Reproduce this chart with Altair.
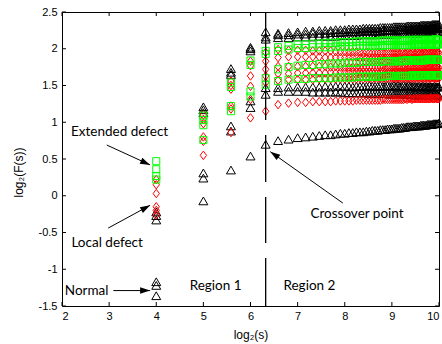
import altair as alt
import numpy as np
import pandas as pd

# Window sizes s = 16, 32, ..., 1024  (x axis shows log2(s))
window_sizes = list(range(16, 1025, 16))

# log2(F(s)) for each recording, one value per window size
normal_curves = [
    [-0.22, 1.21, 1.73, 2.02,
     2.23, 2.21, 2.22, 2.23, 2.24, 2.24, 2.25, 2.25, 2.25, 2.26,
     2.26, 2.26, 2.27, 2.27, 2.27, 2.27, 2.28, 2.28, 2.28, 2.28,
     2.28, 2.28, 2.29, 2.29, 2.29, 2.29, 2.29, 2.29, 2.30, 2.30,
     2.30, 2.30, 2.30, 2.30, 2.30, 2.31, 2.31, 2.31, 2.31, 2.31,
     2.31, 2.31, 2.31, 2.31, 2.32, 2.32, 2.32, 2.32, 2.32, 2.32,
     2.32, 2.32, 2.32, 2.33, 2.33, 2.33, 2.33, 2.33, 2.33, 2.33],
    [-0.27, 1.17, 1.68, 2.00,
     2.16, 2.19, 2.19, 2.20, 2.20, 2.21, 2.21, 2.21, 2.22, 2.22,
     2.22, 2.23, 2.23, 2.23, 2.23, 2.23, 2.24, 2.24, 2.24, 2.24,
     2.24, 2.24, 2.24, 2.25, 2.25, 2.25, 2.25, 2.25, 2.25, 2.25,
     2.25, 2.26, 2.26, 2.26, 2.26, 2.26, 2.26, 2.26, 2.26, 2.26,
     2.26, 2.27, 2.27, 2.27, 2.27, 2.27, 2.27, 2.27, 2.27, 2.27,
     2.27, 2.27, 2.27, 2.28, 2.28, 2.28, 2.28, 2.28, 2.28, 2.28],
    [-0.33, 1.13, 1.65, 1.97,
     2.13, 2.15, 2.15, 2.16, 2.16, 2.16, 2.17, 2.17, 2.17, 2.17,
     2.18, 2.18, 2.18, 2.18, 2.18, 2.19, 2.19, 2.19, 2.19, 2.19,
     2.19, 2.19, 2.20, 2.20, 2.20, 2.20, 2.20, 2.20, 2.20, 2.20,
     2.20, 2.21, 2.21, 2.21, 2.21, 2.21, 2.21, 2.21, 2.21, 2.21,
     2.21, 2.21, 2.22, 2.22, 2.22, 2.22, 2.22, 2.22, 2.22, 2.22,
     2.22, 2.22, 2.22, 2.22, 2.22, 2.23, 2.23, 2.23, 2.23, 2.23],
    [-1.17, 0.31, 0.95, 1.29,
     1.47, 1.47, 1.48, 1.48, 1.48, 1.48, 1.48, 1.49, 1.48, 1.49,
     1.49, 1.49, 1.49, 1.48, 1.49, 1.49, 1.49, 1.49, 1.50, 1.49,
     1.49, 1.49, 1.50, 1.49, 1.49, 1.50, 1.49, 1.49, 1.50, 1.49,
     1.50, 1.49, 1.49, 1.50, 1.49, 1.49, 1.50, 1.49, 1.49, 1.49,
     1.49, 1.48, 1.49, 1.49, 1.48, 1.49, 1.49, 1.48, 1.49, 1.48,
     1.48, 1.49, 1.48, 1.48, 1.48, 1.49, 1.48, 1.48, 1.48, 1.48],
    [-1.22, 0.24, 0.88, 1.20,
     1.38, 1.42, 1.42, 1.42, 1.42, 1.41, 1.41, 1.41, 1.41, 1.41,
     1.41, 1.40, 1.40, 1.40, 1.40, 1.40, 1.40, 1.40, 1.39, 1.39,
     1.39, 1.39, 1.39, 1.39, 1.39, 1.39, 1.38, 1.39, 1.38, 1.38,
     1.38, 1.38, 1.38, 1.38, 1.38, 1.38, 1.38, 1.38, 1.38, 1.37,
     1.38, 1.37, 1.37, 1.37, 1.37, 1.37, 1.37, 1.37, 1.37, 1.37,
     1.37, 1.37, 1.37, 1.36, 1.37, 1.37, 1.36, 1.37, 1.36, 1.36],
    [-1.36, -0.07, 0.35, 0.54,
     0.70, 0.75, 0.77, 0.79, 0.80, 0.81, 0.82, 0.83, 0.83, 0.84,
     0.85, 0.85, 0.86, 0.86, 0.87, 0.87, 0.87, 0.88, 0.88, 0.89,
     0.89, 0.89, 0.90, 0.90, 0.90, 0.91, 0.91, 0.91, 0.92, 0.92,
     0.92, 0.92, 0.93, 0.93, 0.93, 0.94, 0.94, 0.94, 0.94, 0.95,
     0.95, 0.95, 0.95, 0.95, 0.96, 0.96, 0.96, 0.96, 0.96, 0.97,
     0.97, 0.97, 0.97, 0.97, 0.98, 0.98, 0.98, 0.98, 0.98, 0.99],
]

local_curves = [
    [0.22, 1.10, 1.56, 1.83,
     1.95, 1.99, 1.98, 1.98, 1.98, 1.97, 1.97, 1.97, 1.97, 1.96,
     1.96, 1.96, 1.96, 1.96, 1.96, 1.96, 1.95, 1.96, 1.95, 1.95,
     1.95, 1.95, 1.95, 1.95, 1.95, 1.95, 1.95, 1.95, 1.95, 1.95,
     1.95, 1.94, 1.95, 1.95, 1.94, 1.95, 1.95, 1.94, 1.95, 1.95,
     1.94, 1.95, 1.95, 1.94, 1.95, 1.94, 1.95, 1.95, 1.94, 1.95,
     1.94, 1.95, 1.94, 1.95, 1.95, 1.94, 1.95, 1.94, 1.95, 1.94],
    [0.15, 1.04, 1.50, 1.77,
     1.83, 1.88, 1.89, 1.89, 1.89, 1.89, 1.89, 1.88, 1.88, 1.88,
     1.88, 1.88, 1.88, 1.88, 1.88, 1.87, 1.88, 1.87, 1.87, 1.87,
     1.87, 1.87, 1.87, 1.87, 1.87, 1.87, 1.87, 1.87, 1.87, 1.87,
     1.87, 1.87, 1.86, 1.87, 1.87, 1.87, 1.86, 1.87, 1.87, 1.86,
     1.87, 1.86, 1.87, 1.87, 1.86, 1.87, 1.86, 1.87, 1.86, 1.87,
     1.86, 1.87, 1.86, 1.87, 1.86, 1.86, 1.87, 1.86, 1.86, 1.86],
    [0.03, 0.98, 1.45, 1.63,
     1.72, 1.76, 1.76, 1.76, 1.76, 1.76, 1.76, 1.76, 1.75, 1.76,
     1.75, 1.75, 1.75, 1.75, 1.75, 1.75, 1.75, 1.75, 1.75, 1.75,
     1.75, 1.75, 1.75, 1.75, 1.74, 1.75, 1.75, 1.75, 1.75, 1.74,
     1.75, 1.74, 1.75, 1.74, 1.75, 1.74, 1.74, 1.75, 1.74, 1.74,
     1.74, 1.74, 1.75, 1.74, 1.74, 1.74, 1.74, 1.74, 1.74, 1.74,
     1.74, 1.74, 1.74, 1.73, 1.74, 1.74, 1.74, 1.73, 1.74, 1.74],
    [-0.15, 0.80, 1.22, 1.49,
     1.63, 1.66, 1.66, 1.67, 1.67, 1.67, 1.67, 1.67, 1.68, 1.67,
     1.68, 1.68, 1.68, 1.68, 1.68, 1.68, 1.68, 1.68, 1.68, 1.68,
     1.68, 1.68, 1.68, 1.69, 1.68, 1.68, 1.68, 1.68, 1.68, 1.69,
     1.68, 1.68, 1.68, 1.68, 1.69, 1.68, 1.68, 1.68, 1.68, 1.68,
     1.68, 1.69, 1.68, 1.68, 1.68, 1.68, 1.68, 1.69, 1.68, 1.68,
     1.68, 1.68, 1.68, 1.68, 1.69, 1.68, 1.68, 1.68, 1.68, 1.68],
    [-0.20, 0.74, 1.18, 1.31,
     1.54, 1.57, 1.58, 1.58, 1.58, 1.58, 1.59, 1.59, 1.59, 1.59,
     1.59, 1.59, 1.59, 1.59, 1.59, 1.60, 1.59, 1.60, 1.60, 1.59,
     1.60, 1.60, 1.60, 1.60, 1.60, 1.60, 1.60, 1.60, 1.60, 1.60,
     1.60, 1.60, 1.60, 1.60, 1.60, 1.60, 1.60, 1.60, 1.60, 1.60,
     1.60, 1.60, 1.61, 1.60, 1.60, 1.60, 1.60, 1.60, 1.61, 1.60,
     1.60, 1.60, 1.60, 1.61, 1.60, 1.60, 1.60, 1.60, 1.61, 1.60],
    [-0.26, 0.55, 0.86, 1.06,
     1.15, 1.24, 1.26, 1.27, 1.27, 1.28, 1.28, 1.28, 1.28, 1.29,
     1.29, 1.29, 1.29, 1.29, 1.30, 1.30, 1.30, 1.30, 1.30, 1.30,
     1.30, 1.30, 1.30, 1.31, 1.31, 1.31, 1.31, 1.31, 1.31, 1.31,
     1.31, 1.31, 1.31, 1.31, 1.32, 1.31, 1.32, 1.32, 1.31, 1.32,
     1.32, 1.32, 1.32, 1.32, 1.32, 1.32, 1.32, 1.32, 1.32, 1.32,
     1.32, 1.32, 1.33, 1.32, 1.32, 1.32, 1.33, 1.32, 1.32, 1.32],
]

extended_curves = [
    [0.47, 1.09, 1.54, 1.84,
     1.97, 2.02, 2.04, 2.06, 2.06, 2.07, 2.07, 2.08, 2.08, 2.08,
     2.09, 2.09, 2.09, 2.09, 2.10, 2.10, 2.10, 2.10, 2.10, 2.10,
     2.10, 2.10, 2.11, 2.11, 2.11, 2.11, 2.11, 2.11, 2.11, 2.11,
     2.11, 2.11, 2.11, 2.11, 2.11, 2.12, 2.11, 2.12, 2.12, 2.12,
     2.12, 2.12, 2.12, 2.12, 2.12, 2.12, 2.12, 2.12, 2.12, 2.12,
     2.12, 2.12, 2.12, 2.12, 2.12, 2.12, 2.13, 2.12, 2.12, 2.12],
    [0.36, 1.03, 1.48, 1.78,
     1.93, 1.97, 1.99, 2.01, 2.01, 2.02, 2.02, 2.02, 2.02, 2.03,
     2.03, 2.03, 2.03, 2.03, 2.04, 2.04, 2.04, 2.04, 2.04, 2.04,
     2.04, 2.04, 2.04, 2.04, 2.05, 2.05, 2.05, 2.05, 2.05, 2.05,
     2.05, 2.05, 2.05, 2.05, 2.05, 2.05, 2.05, 2.05, 2.05, 2.06,
     2.05, 2.06, 2.06, 2.06, 2.06, 2.06, 2.06, 2.06, 2.06, 2.06,
     2.06, 2.06, 2.06, 2.06, 2.06, 2.06, 2.06, 2.06, 2.06, 2.06],
    [0.27, 0.96, 1.22, 1.42,
     1.60, 1.72, 1.75, 1.77, 1.78, 1.78, 1.79, 1.79, 1.80, 1.80,
     1.80, 1.81, 1.81, 1.81, 1.81, 1.82, 1.82, 1.82, 1.82, 1.82,
     1.82, 1.82, 1.82, 1.83, 1.83, 1.83, 1.83, 1.83, 1.83, 1.83,
     1.83, 1.83, 1.84, 1.83, 1.84, 1.84, 1.84, 1.84, 1.84, 1.84,
     1.84, 1.84, 1.84, 1.84, 1.84, 1.84, 1.85, 1.84, 1.85, 1.85,
     1.85, 1.85, 1.85, 1.85, 1.85, 1.85, 1.85, 1.85, 1.85, 1.85],
    [0.22, 0.76, 1.15, 1.35,
     1.51, 1.56, 1.58, 1.59, 1.59, 1.60, 1.60, 1.60, 1.60, 1.61,
     1.61, 1.61, 1.61, 1.61, 1.62, 1.62, 1.62, 1.62, 1.62, 1.62,
     1.62, 1.62, 1.62, 1.62, 1.63, 1.63, 1.63, 1.63, 1.63, 1.63,
     1.63, 1.63, 1.63, 1.63, 1.63, 1.63, 1.63, 1.63, 1.64, 1.63,
     1.64, 1.63, 1.64, 1.64, 1.64, 1.64, 1.64, 1.64, 1.64, 1.64,
     1.64, 1.64, 1.64, 1.64, 1.64, 1.64, 1.64, 1.64, 1.64, 1.64],
]

crossover_size = 80
x_ticks = [2, 3, 4, 5, 6, 7, 8, 9, 10]
y_ticks = [-1.5, -1, -0.5, 0, 0.5, 1, 1.5, 2, 2.5]

# Text annotations (data coordinates)
notes = pd.DataFrame({
    "label": ["Extended defect", "Local defect", "Normal", "Region 1", "Region 2", "Crossover point"],
    "x": [2.19, 2.20, 2.06, 5.26, 7.25, 8.26],
    "y": [0.87, -0.64, -1.29, -1.23, -1.23, -0.25],
    "align": ["left", "left", "left", "center", "center", "center"],
})

# Arrows: tail (x, y) -> head (x2, y2)
arrows = pd.DataFrame({
    "x": [2.95, 2.98, 3.09, 7.96],
    "y": [0.69, -0.44, -1.29, -0.10],
    "x2": [3.87, 3.87, 3.87, 6.42],
    "y2": [0.42, -0.13, -1.29, 0.60],
})

W, H = 377, 294
X_DOM, Y_DOM = (2, 10), (-1.5, 2.5)

for group in (normal_curves, local_curves, extended_curves):
    assert all(len(c) == len(window_sizes) for c in group)


def long_table(curves, kind):
    rows = []
    for i, vals in enumerate(curves):
        for s, v in zip(window_sizes, vals):
            rows.append({"kind": kind, "curve": i, "x": float(np.log2(s)), "y": v})
    return pd.DataFrame(rows)


normal_df = long_table(normal_curves, "Normal")
local_df = long_table(local_curves, "Local defect")
extended_df = long_table(extended_curves, "Extended defect")

# rotation of each arrowhead in screen space (clockwise degrees)
px_x = W / (X_DOM[1] - X_DOM[0])
px_y = H / (Y_DOM[1] - Y_DOM[0])
arrows["angle"] = [
    float(np.degrees(np.arctan2(-(r.y2 - r.y) * px_y, (r.x2 - r.x) * px_x)) % 360)
    for r in arrows.itertuples()
]

xs = alt.Scale(domain=list(X_DOM), nice=False, zero=False)
ys = alt.Scale(domain=list(Y_DOM), nice=False, zero=False)
xa = alt.Axis(values=x_ticks, title="log₂(s)", labelExpr="'' + datum.value",
              labelPadding=4, titleY=28, titleBaseline="middle")
ya = alt.Axis(values=y_ticks, title="log₂(F(s))", labelExpr="'' + datum.value",
              labelPadding=5, titleX=-37, titleY=160)


def X(field):
    return alt.X(field, type="quantitative", scale=xs, axis=xa)


def Y(field):
    return alt.Y(field, type="quantitative", scale=ys, axis=ya)


triangle = alt.Chart(normal_df).mark_point(
    shape="triangle-up", filled=False, color="#000000", size=80, strokeWidth=1, opacity=1
).encode(x=X("x"), y=Y("y"))

diamond = alt.Chart(local_df).mark_point(
    shape="M0,-1L0.75,0L0,1L-0.75,0Z", filled=False, color="#ff0000", size=72, strokeWidth=1, opacity=1
).encode(x=X("x"), y=Y("y"))

square = alt.Chart(extended_df).mark_point(
    shape="square", filled=False, color="#00ff00", size=50, strokeWidth=1, opacity=1
).encode(x=X("x"), y=Y("y"))

cross_df = pd.DataFrame({"x": [float(np.log2(crossover_size))]})
crossover_line = alt.Chart(cross_df).mark_rule(
    color="black", strokeWidth=1.3, strokeDash=[108, 15, 47, 15, 46, 15, 48]
).encode(x=X("x"), y=alt.value(0), y2=alt.value(H))

arrow_lines = alt.Chart(arrows).mark_rule(color="black", strokeWidth=1).encode(
    x=X("x"), y=Y("y"), x2="x2", y2="y2"
)
arrow_heads = alt.Chart(arrows).mark_point(
    shape="M0,0L-1,-0.32L-1,0.32Z", filled=True, color="black", size=400, strokeWidth=0, opacity=1
).encode(x=X("x2"), y=Y("y2"), angle=alt.Angle("angle:Q", scale=None))

text_left = alt.Chart(notes[notes["align"] == "left"]).mark_text(
    align="left", baseline="middle", font="Lato", fontSize=13.5, color="black"
).encode(x=X("x"), y=Y("y"), text="label:N")
text_center = alt.Chart(notes[notes["align"] == "center"]).mark_text(
    align="center", baseline="middle", font="Lato", fontSize=13.5, color="black"
).encode(x=X("x"), y=Y("y"), text="label:N")

# inward tick marks on all four sides of the box
xt = pd.DataFrame({"x": x_ticks})
yt = pd.DataFrame({"y": y_ticks})
tick_b = alt.Chart(xt).mark_rule(color="black").encode(x=X("x"), y=alt.value(H), y2=alt.value(H - 4))
tick_t = alt.Chart(xt).mark_rule(color="black").encode(x=X("x"), y=alt.value(0), y2=alt.value(4))
tick_l = alt.Chart(yt).mark_rule(color="black").encode(y=Y("y"), x=alt.value(0), x2=alt.value(4))
tick_r = alt.Chart(yt).mark_rule(color="black").encode(y=Y("y"), x=alt.value(W), x2=alt.value(W - 4))

chart = alt.layer(
    tick_b, tick_t, tick_l, tick_r,
    triangle, diamond, square,
    crossover_line, arrow_lines, arrow_heads, text_left, text_center,
).properties(
    width=W, height=H,
    autosize=alt.AutoSizeParams(type="none"),
    padding={"left": 62, "top": 12, "right": 3, "bottom": 38},
).configure_view(
    stroke="black", strokeWidth=1
).configure_axis(
    grid=False, domain=False, ticks=False, tickSize=0,
    labelFont="Liberation Sans", labelFontSize=11, labelColor="black",
    titleFont="Liberation Sans", titleFontSize=12, titleFontWeight="normal", titleColor="black",
)

chart.save("out.html", embed_options={"renderer": "svg", "actions": False})
